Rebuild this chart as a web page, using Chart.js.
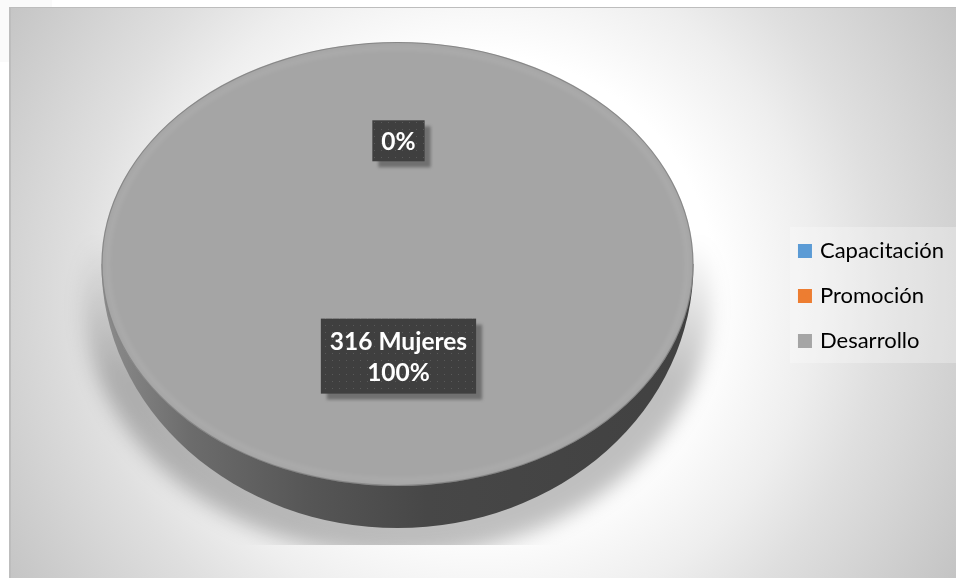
<!DOCTYPE html>
<html>
<head>
<meta charset="utf-8">
<script src="https://cdn.jsdelivr.net/npm/chart.js@4"></script>
<style>html,body{margin:0;padding:0;background:#fff}canvas{display:block}</style>
</head>
<body>
<canvas id="c" width="956" height="578"></canvas>
<script>
const categories = ['Capacitación', 'Promoción', 'Desarrollo'];
const values = [0, 0, 316];
const colors = ['#5b9bd5', '#ed7d31', '#a5a5a5'];
const dataLabels = [['0%'], null, ['316 Mujeres', '100%']];

const CY = 264, SQUASH = 0.75, WALL_RY = 264;

function ellipse(ctx, cx, cy, rx, ry) {
  ctx.beginPath();
  ctx.ellipse(cx, cy, rx, ry, 0, 0, Math.PI * 2);
}

const panel = {
  id: 'panel',
  beforeDraw(chart) {
    const ctx = chart.ctx;
    ctx.save();
    ctx.fillStyle = '#fff';
    ctx.fillRect(0, 0, 956, 578);
    ctx.fillStyle = '#fafafa';
    ctx.fillRect(0, 0, 52, 7);
    ctx.fillRect(0, 7, 9, 55);
    const g = ctx.createRadialGradient(480, 290, 0, 480, 290, 560);
    g.addColorStop(0, '#ffffff');
    g.addColorStop(0.42, '#ffffff');
    g.addColorStop(0.6, '#eeeeee');
    g.addColorStop(0.72, '#dfdfdf');
    g.addColorStop(1, '#c3c3c3');
    ctx.fillStyle = g;
    ctx.fillRect(9, 7, 947, 571);
    ctx.fillStyle = '#bdbdbd';
    ctx.fillRect(9, 7, 947, 1);
    ctx.fillRect(9, 7, 2, 571);
    ctx.fillStyle = 'rgba(255,255,255,0.28)';
    ctx.fillRect(790, 227, 166, 136);
    ctx.restore();
  }
};

const pie3d = {
  id: 'pie3d',
  beforeDatasetsDraw(chart) {
    const ctx = chart.ctx;
    const arc = chart.getDatasetMeta(0).data[2];
    const r = arc.outerRadius, x = arc.x;
    // soft shadow under the disc
    ctx.save();
    ctx.beginPath();
    ctx.rect(9, 235, 947, 310);
    ctx.clip();
    ctx.filter = 'blur(10px)';
    const sg = ctx.createLinearGradient(0, 240, 0, 380);
    sg.addColorStop(0, 'rgba(0,0,0,0)');
    sg.addColorStop(1, 'rgba(0,0,0,0.25)');
    ctx.fillStyle = sg;
    ellipse(ctx, x, 298, r + 18, 258);
    ctx.fill();
    ctx.restore();
    // side wall
    ctx.save();
    const wall = ctx.createLinearGradient(x - r, 0, x + r, 0);
    wall.addColorStop(0, '#8c8c8c');
    wall.addColorStop(0.15, '#6c6c6c');
    wall.addColorStop(0.35, '#565656');
    wall.addColorStop(0.55, '#474747');
    wall.addColorStop(1, '#414141');
    ctx.fillStyle = wall;
    ctx.beginPath();
    ctx.ellipse(x, CY, r, WALL_RY, 0, 0, Math.PI);
    ctx.closePath();
    ctx.fill();
    ctx.restore();
    // squash the round pie into the tilted disc
    ctx.save();
    ctx.translate(0, CY);
    ctx.scale(1, SQUASH);
    ctx.translate(0, -arc.y);
  },
  afterDatasetsDraw(chart) {
    const ctx = chart.ctx;
    ctx.restore();
    const arc = chart.getDatasetMeta(0).data[2];
    const r = arc.outerRadius, rY = r * SQUASH, x = arc.x;
    // faint bevel and edge
    ctx.save();
    ctx.filter = 'blur(2px)';
    ctx.lineWidth = 5;
    ctx.strokeStyle = 'rgba(255,255,255,0.08)';
    ellipse(ctx, x, CY, r - 6, rY - 6);
    ctx.stroke();
    ctx.filter = 'none';
    ctx.lineWidth = 1.2;
    ctx.strokeStyle = 'rgba(90,90,90,0.4)';
    ellipse(ctx, x, CY, r - 0.5, rY - 0.5);
    ctx.stroke();
    ctx.restore();
  }
};

const boxLabels = {
  id: 'boxLabels',
  afterDraw(chart) {
    const ctx = chart.ctx;
    const meta = chart.getDatasetMeta(0).data;
    const p = document.createElement('canvas');
    p.width = 7; p.height = 7;
    const pc = p.getContext('2d');
    pc.fillStyle = '#3f3f3f';
    pc.fillRect(0, 0, 7, 7);
    pc.fillStyle = '#5a5a5a';
    pc.fillRect(3, 3, 1, 1);
    const pattern = ctx.createPattern(p, 'repeat');
    const place = [0.555, 0, 0.415];
    dataLabels.forEach((lines, i) => {
      if (!lines) return;
      const a = meta[i];
      const mid = (a.startAngle + a.endAngle) / 2;
      const cx = a.x + 1;
      const cy = CY + Math.sin(mid) * a.outerRadius * place[i] * SQUASH;
      ctx.save();
      ctx.font = 'bold 24.5px Lato';
      const w = Math.max(...lines.map(t => ctx.measureText(t).width));
      const bw = Math.max(w + 18, 50);
      const bh = lines.length * 30 + (lines.length > 1 ? 15 : 11);
      const bx = cx - bw / 2, by = cy - bh / 2;
      ctx.filter = 'blur(1.5px)';
      ctx.fillStyle = 'rgba(60,60,60,0.5)';
      ctx.fillRect(bx + 6, by + 6, bw, bh);
      ctx.filter = 'none';
      ctx.fillStyle = pattern;
      ctx.fillRect(bx, by, bw, bh);
      ctx.fillStyle = '#ffffff';
      ctx.textAlign = 'center';
      ctx.textBaseline = 'middle';
      lines.forEach((t, k) => ctx.fillText(t, cx, cy + 1 + (k - (lines.length - 1) / 2) * 31));
      ctx.restore();
    });
  }
};

new Chart(document.getElementById('c'), {
  type: 'pie',
  data: {
    labels: categories,
    datasets: [{ data: values, backgroundColor: colors, borderWidth: 0, radius: 296 }]
  },
  plugins: [panel, pie3d, boxLabels],
  options: {
    responsive: false,
    animation: false,
    layout: { padding: { top: 14, right: 2, bottom: 0, left: 17 } },
    plugins: {
      tooltip: { enabled: false },
      legend: {
        position: 'right',
        labels: {
          font: { family: 'Lato', size: 22 },
          color: '#484848',
          boxWidth: 8,
          boxHeight: 8,
          padding: 23,
          generateLabels(chart) {
            return categories.map((t, i) => ({
              text: t, fillStyle: colors[i], strokeStyle: colors[i],
              lineWidth: 6, hidden: false, index: i
            }));
          }
        }
      }
    }
  }
});
</script>
</body>
</html>
